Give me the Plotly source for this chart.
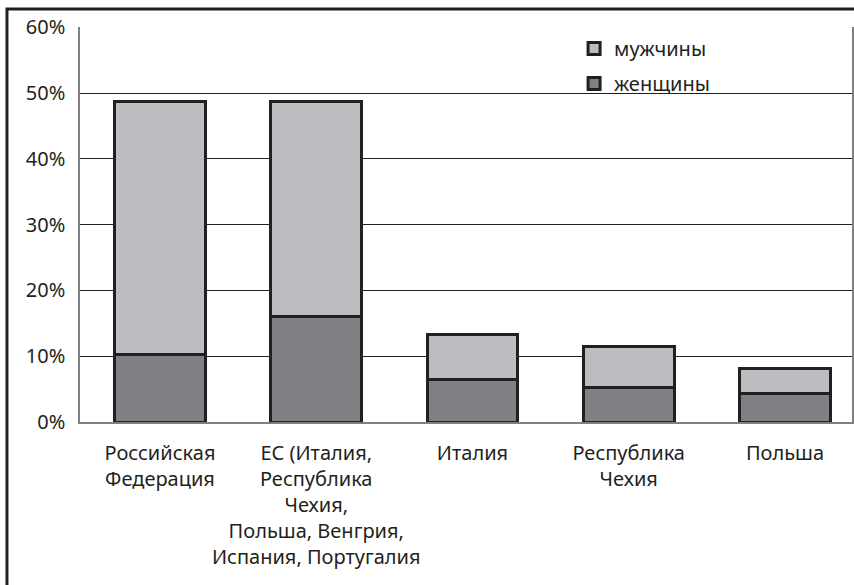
import plotly.graph_objects as go

categories = [
    "Российская<br>Федерация",
    "ЕС (Италия,<br>Республика<br>Чехия,<br>Польша, Венгрия,<br>Испания, Португалия",
    "Италия",
    "Республика<br>Чехия",
    "Польша",
]
women = [10.2, 16.1, 6.4, 5.3, 4.4]
men_extra = [38.5, 32.7, 6.9, 6.2, 3.8]  # stacked on top of women

FONT = "Noto Sans"
DARK = "#231f20"
FS = 20

fig = go.Figure()
fig.add_trace(go.Bar(
    x=categories, y=women, name="женщины", legendgroup="w", legendrank=2,
    marker=dict(color="#808184", line=dict(color=DARK, width=3)),
    width=0.58,
))
fig.add_trace(go.Bar(
    x=categories, y=men_extra, name="мужчины", legendgroup="m", legendrank=1,
    marker=dict(color="#bcbdc0", line=dict(color=DARK, width=3)),
    width=0.58,
))

fig.update_layout(
    barmode="stack",
    width=854, height=585,
    margin=dict(l=80, r=2, t=27, b=163, autoexpand=False),
    paper_bgcolor="white", plot_bgcolor="white",
    font=dict(family=FONT, size=FS, color=DARK),
    legend=dict(
        x=0.64, y=0.995, xanchor="left", yanchor="top",
        traceorder="grouped", tracegroupgap=6,
        font=dict(family=FONT, size=FS, color=DARK),
        bgcolor="rgba(0,0,0,0)",
    ),
    showlegend=True,
    xaxis=dict(
        range=[-0.512, 4.429], automargin=False,
        showline=True, linecolor="#808080", linewidth=2,
        showgrid=False, ticks="", ticklabelstandoff=12, tickangle=0,
        tickfont=dict(family=FONT, size=FS, color=DARK),
    ),
    yaxis=dict(
        range=[0, 60.05], dtick=10, ticksuffix="%", automargin=False,
        showgrid=True, gridcolor=DARK, gridwidth=1,
        zeroline=False,
        showline=True, mirror=True, linecolor="#808080", linewidth=1.5,
        ticks="", ticklabelstandoff=9,
        tickfont=dict(family=FONT, size=FS, color=DARK),
    ),
    shapes=[
        dict(type="rect", xref="paper", yref="paper",
             x0=-0.0946, x1=1.2, y0=-0.6, y1=1.0456,
             line=dict(color=DARK, width=3), fillcolor="rgba(0,0,0,0)",
             layer="above"),
    ],
)

fig.write_html("out.html", config={"displayModeBar": False})
with open("out.html", encoding="utf-8") as f:
    html = f.read()
html = html.replace("<body>", '<body style="margin:0;overflow:hidden">', 1)
with open("out.html", "w", encoding="utf-8") as f:
    f.write(html)
